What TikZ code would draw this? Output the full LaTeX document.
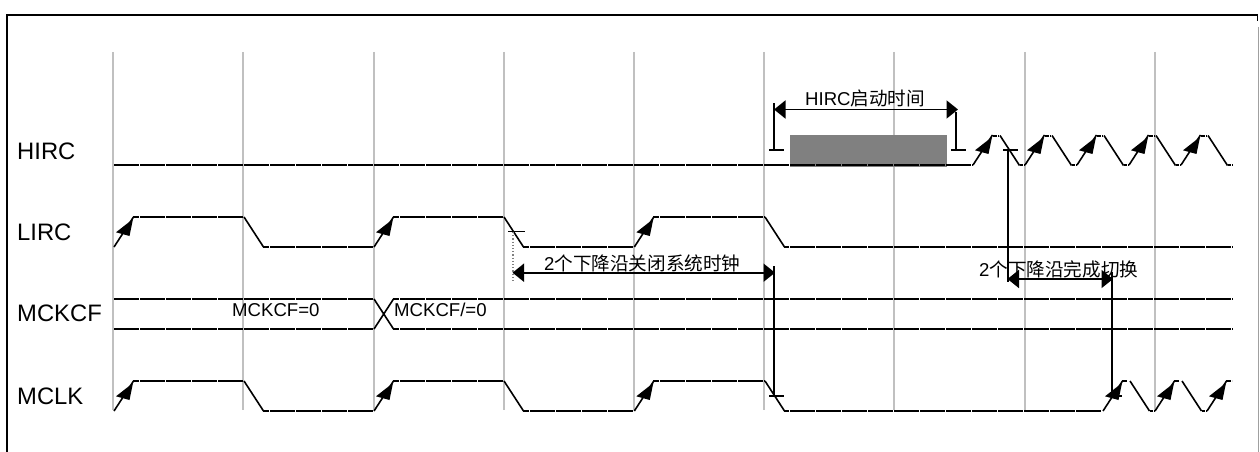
\documentclass[tikz,border=0pt]{standalone}
\usepackage{fontspec}
\setmainfont{Liberation Sans}
\newfontfamily\cjk{Noto Sans CJK SC}
\usetikzlibrary{arrows.meta}
\tikzset{
  sig/.style={line width=2pt,line cap=butt,black},
  edgeline/.style={line width=1.6pt,black},
  gridline/.style={line width=1.3pt,draw=gridgray},
  dim/.style={line width=1.8pt,black},
  dimarrow/.style={dim,{Triangle[length=11.5pt,width=18pt]}-{Triangle[length=11.5pt,width=18pt]}},
  siglabel/.style={anchor=base west,inner sep=0pt,font=\fontsize{23.8pt}{25pt}\selectfont},
  note/.style={anchor=base west,inner sep=0pt,font=\fontsize{18.6pt}{20pt}\selectfont},
}
\definecolor{gridgray}{HTML}{C0C0C0}
\definecolor{framegray}{HTML}{A0A0A0}
\definecolor{blockgray}{HTML}{808080}
% horizontal dashed run on the 26-unit dash grid starting at x=114
\newcommand{\hrun}[3]{%
  \pgfmathsetmacro{\myphase}{mod(#2-114,26)}%
  \draw[sig,dash pattern=on 24.5pt off 1.5pt,dash phase=\myphase pt] (#2,#1) -- (#3,#1);}
% rising edge starting at x, low level y, with a filled head
\newcommand{\riseedge}[2]{%
  \draw[edgeline] (#1,#2) -- ++(19.5,-30);
  \fill (#1,#2) ++(19,-28) -- ++(-17,13.3) -- ++(13.5,3.7) -- cycle;}
% falling edge from high level y at x
\newcommand{\falledge}[2]{%
  \draw[edgeline] (#1,#2) -- ++(19.5,30);}
\begin{document}
\begin{tikzpicture}[x=1pt,y=-1pt]
\useasboundingbox (0,0) rectangle (1260,452);
% frame
\coordinate (fbl) at (7,452);
\coordinate (ftl) at (7,15);
\coordinate (ftr) at (1257.5,15);
\coordinate (fstub) at (1257.5,21);
\draw[line width=1.6pt,black] (fbl) -- (ftl) -- (ftr) -- (fstub);
\draw[line width=1.3pt,framegray] (1258.8,27) -- (1258.8,452);
% grid
\foreach \gx in {113,243,374,504,634,764,894,1025,1155}
  \draw[gridline] (\gx,52) -- (\gx,410);
% startup block
\fill[blockgray] (790,135) rectangle (947,166.7);
% signal labels
\node[siglabel] (lhirc) at (17,159) {HIRC};
\node[siglabel] (llirc) at (17,240) {LIRC};
\node[siglabel] (lmckcf) at (17,321.5) {MCKCF};
\node[siglabel] (lmclk) at (17,404) {MCLK};
% HIRC
\hrun{165}{114}{973}
\riseedge{973}{165}
\foreach \k in {0,1,2,3,4}{
  \pgfmathsetmacro{\xa}{973+52*\k}
  \pgfmathsetmacro{\xb}{\xa+20}
  \pgfmathsetmacro{\xc}{\xa+25.5}
  \pgfmathsetmacro{\xd}{\xa+27}
  \pgfmathsetmacro{\xe}{\xa+46.5}
  \pgfmathsetmacro{\xf}{\xa+51.5}
  \ifnum\k>0 \riseedge{\xa}{165}\fi
  \hrun{136}{\xb}{\xc}
  \falledge{\xd}{135.5}
  \hrun{165}{\xe}{\xf}
}
% LIRC and MCLK first part
\foreach \hi/\lo in {217/247,381/411}{
  \riseedge{114}{\lo}
  \hrun{\hi}{133.3}{243.5}
  \falledge{244}{\hi}
  \hrun{\lo}{263.3}{373.5}
  \riseedge{374}{\lo}
  \hrun{\hi}{393.3}{503.5}
  \falledge{504}{\hi}
  \hrun{\lo}{523.3}{634}
  \riseedge{634.3}{\lo}
  \hrun{\hi}{653.3}{764.5}
  \falledge{765}{\hi}
}
\hrun{247}{784.3}{1233}
\hrun{411}{784.3}{1102}
% MCLK switch-over
\riseedge{1103}{411}
\hrun{381}{1122}{1127.5}
\falledge{1130}{381}
\hrun{411}{1149.5}{1154.5}
\riseedge{1155}{411}
\hrun{381}{1174}{1179.5}
\falledge{1182}{381}
\hrun{411}{1201.5}{1206.5}
\riseedge{1207}{411}
\hrun{381}{1226}{1232}
% MCKCF
\hrun{299}{114}{373.5}
\hrun{329}{114}{373.5}
\draw[edgeline] (374,299) -- (393.5,329) (374,329) -- (393.5,299);
\hrun{299}{393.3}{1233}
\hrun{329}{393.3}{1233}
\node[note] (nzero) at (232,316.7) {MCKCF=0};
\node[note] (nnot) at (394,316.7) {MCKCF/=0};
% HIRC start-up time
\coordinate (sa) at (774,103);
\coordinate (sb) at (774,150);
\coordinate (sc) at (956,112);
\coordinate (sd) at (956,150);
\draw[dim] (sa) -- (sb) ++(-5,0) -- ++(15,0);
\draw[dim] (sc) -- (sd) ++(-5,0) -- ++(15,0);
\coordinate (sl) at (774,109.5);
\coordinate (sr) at (958,109.5);
\draw[dimarrow] (sl) -- (sr);
\node[note] (nstart) at (805,105.5) {HIRC{\cjk 启动时间}};
% two falling edges: stop system clock
\coordinate (pa) at (513,232);
\coordinate (pb) at (513,283);
\draw[line width=1.2pt,gray,dotted] (pa) -- (pb);
\draw[line width=1.3pt,black] (508,231.7) -- (525,231.7);
\coordinate (pc) at (774,266);
\coordinate (pd) at (774,396);
\draw[dim] (pc) -- (pd) ++(-5,0) -- ++(15,0);
\coordinate (pl) at (512.5,272.7);
\coordinate (pr) at (775,272.7);
\draw[dimarrow] (pl) -- (pr);
\node[note] (nstop) at (544,270) {2{\cjk 个下降沿关闭系统时钟}};
% two falling edges: finish switching
\coordinate (qa) at (1008,150);
\coordinate (qb) at (1008,282);
\draw[dim] (qa) -- (qb);
\draw[dim] (1003,150) -- (1018,150);
\coordinate (qc) at (1112,272);
\coordinate (qd) at (1112,396);
\draw[dim] (qc) -- (qd) ++(-5,0) -- ++(15,0);
\coordinate (ql) at (1007.5,279);
\coordinate (qr) at (1113,279);
\draw[dimarrow] (ql) -- (qr);
\node[note] (nswitch) at (979,276.7) {2{\cjk 个下降沿完成切换}};
\end{tikzpicture}
\end{document}
